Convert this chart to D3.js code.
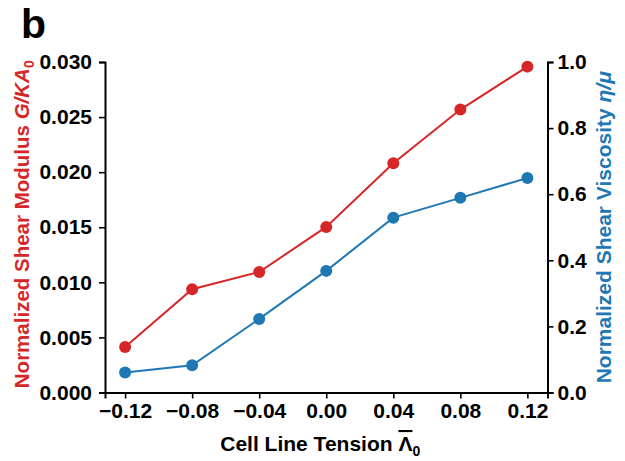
<!DOCTYPE html>
<html><head><meta charset="utf-8">
<script src="https://cdn.jsdelivr.net/npm/d3@7"></script>
<style>body{margin:0;background:#fff;} svg{display:block;} text{font-family:"Liberation Sans",Arial,sans-serif;font-weight:bold;}</style>
</head><body>
<svg id="c" width="625" height="461"></svg>
<script>
const tension = [-0.12, -0.08, -0.04, 0.00, 0.04, 0.08, 0.12];
const shearModulus = [0.00414, 0.00937, 0.01094, 0.01503, 0.02081, 0.02568, 0.02958];
const shearViscosity = [0.0605, 0.0826, 0.2226, 0.368, 0.529, 0.589, 0.649];
const xTicks = [-0.12, -0.08, -0.04, 0.00, 0.04, 0.08, 0.12];
const leftTicks = [0, 0.005, 0.010, 0.015, 0.020, 0.025, 0.030];
const rightTicks = [0, 0.2, 0.4, 0.6, 0.8, 1.0];
const red = "#d62728", blue = "#1f77b4";

const svg = d3.select("#c");
const L = 105, R = 547.5, T = 62, B = 392.5;
const FS = 21;
const x = d3.scaleLinear().domain([-0.132, 0.132]).range([L, R]);
const yL = d3.scaleLinear().domain([0, 0.030]).range([B, T]);
const yR = d3.scaleLinear().domain([0, 1.0]).range([B, T]);

function styleAxis(g){
  g.selectAll(".domain").attr("stroke","#000").attr("stroke-width",2);
  g.selectAll(".tick line").attr("stroke","#000").attr("stroke-width",1.6);
  g.selectAll(".tick text").attr("font-size",FS).attr("font-weight","bold").attr("fill","#000")
    .attr("font-family","'Liberation Sans',Arial,sans-serif");
}
const fmtX = v => (v < 0 ? "\u2212" : "") + Math.abs(v).toFixed(2);
svg.append("g").attr("transform",`translate(0,${B})`)
  .call(d3.axisBottom(x).tickValues(xTicks).tickFormat(fmtX).tickSizeOuter(0).tickSize(6).tickPadding(5))
  .call(styleAxis);
svg.append("g").attr("transform",`translate(${L},0)`)
  .call(d3.axisLeft(yL).tickValues(leftTicks).tickFormat(d3.format(".3f")).tickSizeOuter(0).tickSize(6).tickPadding(7))
  .call(styleAxis);
svg.append("g").attr("transform",`translate(${R},0)`)
  .call(d3.axisRight(yR).tickValues(rightTicks).tickFormat(d3.format(".1f")).tickSizeOuter(0).tickSize(6).tickPadding(4))
  .call(styleAxis);

function series(vals, y, col){
  svg.append("path").datum(vals)
    .attr("fill","none").attr("stroke",col).attr("stroke-width",2)
    .attr("d", d3.line().x((d,i)=>x(tension[i])).y(d=>y(d)));
  svg.append("g").selectAll("circle").data(vals).join("circle")
    .attr("cx",(d,i)=>x(tension[i])).attr("cy",d=>y(d)).attr("r",6).attr("fill",col);
}
series(shearModulus, yL, red);
series(shearViscosity, yR, blue);

// Panel label
svg.append("text").attr("x",21).attr("y",38).attr("font-size",41).text("b");

// Left axis label
const ll = svg.append("text").attr("transform",`translate(29,${(T+B)/2 - 3}) rotate(-90)`)
  .attr("text-anchor","middle").attr("font-size",20.5).attr("fill",red);
ll.append("tspan").text("Normalized Shear Modulus ");
ll.append("tspan").attr("font-style","italic").text("G/KA");
ll.append("tspan").attr("font-size",14).attr("dy",5).text("0");

// Right axis label
const rl = svg.append("text").attr("transform",`translate(611,${(T+B)/2}) rotate(-90)`)
  .attr("text-anchor","middle").attr("font-size",FS).attr("fill",blue);
rl.append("tspan").text("Normalized Shear Viscosity ");
rl.append("tspan").attr("font-style","italic").text("\u03B7/\u03BC");

// X label
const xl = svg.append("text").attr("x",(L+R)/2 - 6).attr("y",451)
  .attr("text-anchor","middle").attr("font-size",FS).attr("fill","#000");
xl.append("tspan").text("Cell Line Tension ");
xl.append("tspan").attr("text-decoration","overline").text("\u039B");
xl.append("tspan").attr("font-size",14).attr("dy",5).text("0");
</script>
</body></html>
